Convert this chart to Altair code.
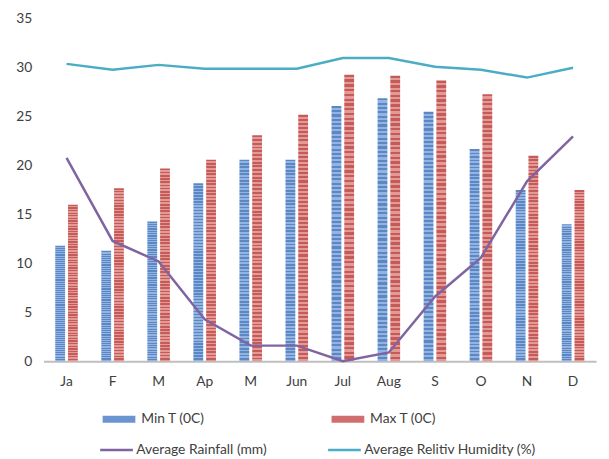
import altair as alt
import pandas as pd

months = ["Ja", "F", "M", "Ap", "M", "Jun", "Jul", "Aug", "S", "O", "N", "D"]
min_t = [11.8, 11.3, 14.3, 18.2, 20.6, 20.6, 26.1, 26.9, 25.5, 21.7, 17.5, 14.0]
max_t = [16.0, 17.7, 19.7, 20.6, 23.1, 25.2, 29.3, 29.2, 28.7, 27.3, 21.0, 17.5]
rainfall = [20.8, 12.3, 10.2, 4.3, 1.6, 1.6, 0.0, 0.9, 6.6, 10.6, 18.4, 23.0]
humidity = [30.4, 29.8, 30.3, 29.9, 29.9, 29.9, 31.0, 31.0, 30.1, 29.8, 29.0, 30.0]

bar_series = ["Min T (0C)", "Max T (0C)"]
line_series = ["Average Rainfall (mm)", "Average Relitiv Humidity (%)"]
bar_colors = ["#6b95d0", "#cf6e6c"]
line_colors = ["#8064a2", "#4bacc6"]

rows_bar = []
rows_line = []
for i, m in enumerate(months):
    rows_bar.append({"idx": i, "series": bar_series[0], "value": min_t[i]})
    rows_bar.append({"idx": i, "series": bar_series[1], "value": max_t[i]})
    rows_line.append({"idx": i, "series": line_series[0], "value": rainfall[i]})
    rows_line.append({"idx": i, "series": line_series[1], "value": humidity[i]})
bars_df = pd.DataFrame(rows_bar)
lines_df = pd.DataFrame(rows_line)


def stripes(dark, light, n=60):
    stops = []
    for k in range(n):
        a, b, c = k / n, (k + 0.5) / n, (k + 1) / n
        stops += [alt.GradientStop(offset=a, color=dark),
                  alt.GradientStop(offset=b, color=dark),
                  alt.GradientStop(offset=b, color=light),
                  alt.GradientStop(offset=c, color=light)]
    return alt.LinearGradient(gradient="linear", stops=stops, x1=0, x2=0, y1=0, y2=1)


grad_blue = stripes("#5a88c6", "#94b4df")
grad_red = stripes("#c65a57", "#e29a98")

label_expr = "[" + ",".join("'%s'" % m for m in months) + "][datum.value]"
FONT = "Lato"

x_enc = alt.X("idx:O", title=None,
              scale=alt.Scale(paddingInner=0.51, paddingOuter=0.255),
              axis=alt.Axis(labelExpr=label_expr, labelAngle=0, ticks=False,
                            domainColor="#bfbfbf", domainWidth=2,
                            labelPadding=14, labelFontSize=14,
                            labelColor="#404040", labelFont=FONT))
y_enc = alt.Y("value:Q", title=None,
              scale=alt.Scale(domain=[0, 35], nice=False),
              axis=alt.Axis(values=[0, 5, 10, 15, 20, 25, 30, 35], grid=False,
                            domain=False, ticks=False, labelPadding=12,
                            labelFontSize=14, labelColor="#404040", labelFont=FONT))
common_legend = dict(orient="none", legendX=56, direction="horizontal",
                     columns=2, labelLimit=0, symbolType="stroke", symbolSize=1100,
                     labelFontSize=14, labelFont=FONT, labelColor="#404040",
                     labelOffset=2, symbolOpacity=1)

bars = alt.Chart(bars_df).mark_bar(strokeWidth=0).encode(
    x=x_enc,
    xOffset=alt.XOffset("series:N", sort=bar_series,
                        scale=alt.Scale(domain=bar_series, paddingInner=0.23)),
    y=y_enc,
    fill=alt.condition(alt.datum.series == bar_series[0],
                       alt.value(grad_blue), alt.value(grad_red)),
)

bar_key = alt.Chart(bars_df).mark_point(opacity=0).encode(
    x=x_enc,
    y=y_enc,
    stroke=alt.Stroke("series:N", title=None,
                      scale=alt.Scale(domain=bar_series, range=bar_colors),
                      legend=alt.Legend(legendY=385, columnPadding=113,
                                        symbolStrokeWidth=7, **common_legend)),
)

lines = alt.Chart(lines_df).mark_line(strokeWidth=2.5).encode(
    x=x_enc,
    y=y_enc,
    color=alt.Color("series:N", title=None,
                    scale=alt.Scale(domain=line_series, range=line_colors),
                    legend=alt.Legend(legendY=419, columnPadding=56,
                                      symbolStrokeWidth=2.5, **common_legend)),
)

chart = alt.layer(bars, bar_key, lines).properties(
    width=560, height=347,
    autosize=alt.AutoSizeParams(type="none"),
    padding={"left": 36, "top": 8, "right": 5, "bottom": 96},
).resolve_scale(color="independent", stroke="independent").configure_view(stroke=None)

chart.save("out.html", embed_options={"renderer": "svg", "actions": False})
